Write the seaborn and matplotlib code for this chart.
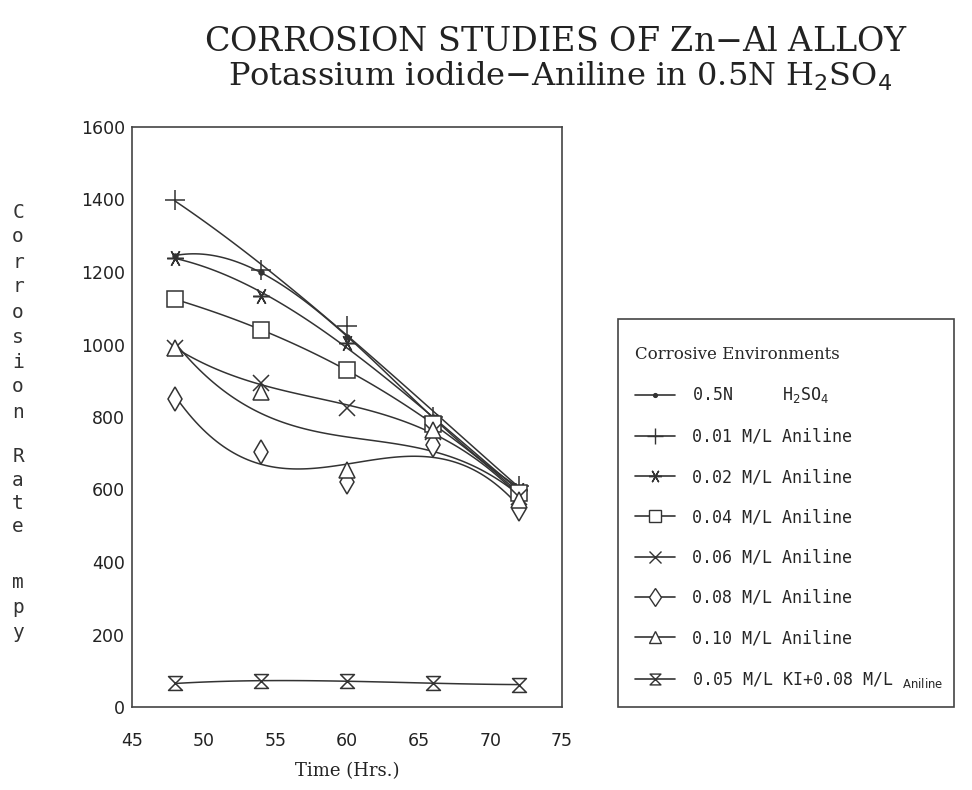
import numpy as np
import pandas as pd
import seaborn as sns
import matplotlib
matplotlib.use("Agg")
import matplotlib.pyplot as plt
from matplotlib.lines import Line2D
from matplotlib.path import Path
from matplotlib.patches import Rectangle

# ---------------- data ----------------
time_hrs = [48, 54, 60, 66, 72]
h2so4 = [1245, 1200, 1020, 800, 605]
aniline_001 = [1400, 1205, 1050, 800, 610]
aniline_002 = [1240, 1135, 1005, 790, 600]
aniline_004 = [1125, 1040, 930, 780, 590]
aniline_006 = [990, 895, 825, 760, 580]
aniline_008 = [850, 703, 620, 722, 545]
aniline_010 = [990, 870, 655, 765, 570]
ki_aniline = [65, 72, 72, 65, 62]

labels = [
    "0.5N     H$_2$SO$_4$",
    "0.01 M/L Aniline",
    "0.02 M/L Aniline",
    "0.04 M/L Aniline",
    "0.06 M/L Aniline",
    "0.08 M/L Aniline",
    "0.10 M/L Aniline",
    "0.05 M/L KI+0.08 M/L $_{\\mathrm{Aniline}}$",
]
series = [h2so4, aniline_001, aniline_002, aniline_004, aniline_006,
          aniline_008, aniline_010, ki_aniline]

xticks = [45, 50, 55, 60, 65, 70, 75]
yticks = [0, 200, 400, 600, 800, 1000, 1200, 1400, 1600]

# ---------------- style ----------------
sns.set_theme(style="white")
plt.rcParams["font.family"] = ["DejaVu Sans"]
plt.rcParams["mathtext.fontset"] = "dejavusans"

ink = "#333333"
hourglass = Path([(-1, 1), (1, 1), (-1, -1), (1, -1), (-1, 1)],
                 [Path.MOVETO, Path.LINETO, Path.LINETO, Path.LINETO, Path.CLOSEPOLY])
styles = [
    dict(marker="o", ms=3.5, mfc=ink),
    dict(marker="+", ms=14, mfc=ink),
    dict(marker=(6, 2, 90), ms=12, mfc=ink),
    dict(marker="s", ms=11, mfc="white"),
    dict(marker="x", ms=11, mfc=ink),
    dict(marker="d", ms=12, mfc="white"),
    dict(marker="^", ms=11, mfc="white"),
    dict(marker=hourglass, ms=10, mfc="white"),
]

fig = plt.figure(figsize=(9.72, 7.90), dpi=100)
ax = fig.add_axes([132 / 972, 1 - 707 / 790, (562 - 132) / 972, (707 - 127) / 790])

df = pd.DataFrame({"time": time_hrs})
for vals, st in zip(series, styles):
    df["rate"] = vals
    sns.regplot(data=df, x="time", y="rate", order=3, ci=None, scatter=False,
                truncate=True, ax=ax, color=ink, line_kws=dict(lw=1.1))
    ax.plot(time_hrs, vals, ls="none", marker=st["marker"], ms=st["ms"],
            mfc=st["mfc"], mec=ink, mew=1.1, color=ink, zorder=5)

ax.set_xlim(45, 75)
ax.set_ylim(0, 1600)
ax.set_xticks(xticks)
ax.set_yticks(yticks)
ax.set_xticklabels([str(t) for t in xticks])
ax.set_yticklabels([str(t) for t in yticks])
ax.set_xlabel("")
ax.set_ylabel("")
ax.tick_params(axis="x", direction="in", length=7, width=1, color=ink,
               pad=18, labelsize=12.5, labelcolor="#222222")
ax.tick_params(axis="y", direction="in", length=7, width=1, color=ink,
               pad=5, labelsize=12.5, labelcolor="#222222")
for tl in (ax.xaxis.get_major_ticks(), ax.yaxis.get_major_ticks()):
    tl[0].tick1line.set_visible(False)
    tl[-1].tick1line.set_visible(False)
for sp in ax.spines.values():
    sp.set_color("#444444")
    sp.set_linewidth(1.2)

# x label
fig.text(347 / 972, 1 - 771 / 790, "Time (Hrs.)", ha="center", va="center",
         fontsize=13, family="DejaVu Serif", color="#222222")

# vertical stacked y label
ylabel_words = ["Corrosion", "Rate", "mpy"]
word_tops = [212, 457, 582]
pitches = [25, 23.3, 25.5]
for word, y0, p in zip(ylabel_words, word_tops, pitches):
    for i, ch in enumerate(word):
        fig.text(18 / 972, 1 - (y0 + i * p) / 790, ch, ha="center", va="center",
                 fontsize=14, family="DejaVu Sans Mono", color="#333333")

# titles
fig.text(556 / 972, 1 - 42 / 790, "CORROSION STUDIES OF Zn$-$Al ALLOY",
         ha="center", va="center", fontsize=24, family="DejaVu Serif", color="#222222")
fig.text(560 / 972, 1 - 76 / 790, "Potassium iodide$-$Aniline in 0.5N H$_2$SO$_4$",
         ha="center", va="center", fontsize=23, family="DejaVu Serif", color="#222222")

# legend (frame drawn as a separate box)
handles = [Line2D([], [], color=ink, lw=1.2, marker=st["marker"],
                  ms=st["ms"] * 0.78, mfc=st["mfc"], mec=ink, mew=1.0)
           for st in styles]
leg = fig.legend(handles, labels, title="Corrosive Environments",
                 loc="upper left", bbox_to_anchor=(635 / 972, 1 - 346 / 790),
                 borderaxespad=0, frameon=False,
                 prop=dict(family="DejaVu Sans Mono", size=12),
                 title_fontproperties=dict(family="DejaVu Serif", size=12),
                 handlelength=2.4, handletextpad=1.0, labelspacing=1.34,
                 borderpad=0, alignment="left")
fig.patches.append(Rectangle((618 / 972, 1 - 707 / 790), (954 - 618) / 972, (707 - 319) / 790,
                             transform=fig.transFigure, fill=False,
                             edgecolor="#444444", linewidth=1.2))

fig.savefig("out.png", dpi=100)
